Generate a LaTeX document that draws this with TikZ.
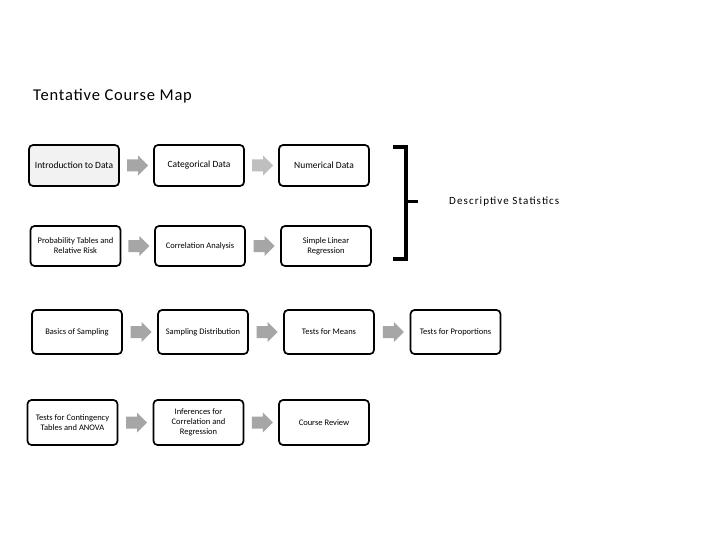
\documentclass[tikz,border=0pt]{standalone}
\usepackage{fontspec}
\setmainfont{Carlito}
\usetikzlibrary{calc}
\definecolor{agray}{HTML}{A6A6A6}
\definecolor{agrayl}{HTML}{BFBFBF}
\definecolor{lfill}{HTML}{F2F2F2}
\tikzset{
  course/.style={draw=black, line width=1.7pt, rounded corners=4pt, fill=white,
    minimum width=90pt, align=center, inner sep=2pt, font=\fontsize{8.5}{10}\selectfont},
  rowone/.style={font=\fontsize{9.5}{11}\selectfont},
}
\newcommand{\flowarr}[3][agray]{%
  \coordinate (m) at ($(#2.east)!0.5!(#3.west)+(1,0)$);
  \fill[#1] ($(m)+(-10.5,-6)$) -- ($(m)+(0.5,-6)$) -- ($(m)+(0.5,-10)$) -- ($(m)+(10.5,0)$)
     -- ($(m)+(0.5,10)$) -- ($(m)+(0.5,6)$) -- ($(m)+(-10.5,6)$) -- cycle;}
\begin{document}
\begin{tikzpicture}[x=1pt, y=-1pt]
\useasboundingbox[fill=white] (0,0) rectangle (720,540);
\node[anchor=base west, inner sep=0pt, font=\fontsize{16.5}{19}\selectfont\addfontfeatures{LetterSpace=5}] (title) at (33,101) {Tentative Course Map};
% row 1
\node[course, rowone, fill=lfill, minimum height=41pt] (a1) at (74,165.5) {Introduction to Data};
\node[course, rowone, minimum height=41pt] (a2) at (199,165.5) {Categorical Data};
\node[course, rowone, minimum height=41pt] (a3) at (324,165.5) {Numerical Data};
% row 2
\node[course, minimum height=40pt] (b1) at (75.5,246) {Probability Tables and\\Relative Risk};
\node[course, minimum height=40pt] (b2) at (200,246) {Correlation Analysis};
\node[course, minimum height=40pt] (b3) at (326,246) {Simple Linear\\Regression};
% row 3
\node[course, minimum height=44pt] (c1) at (77,332) {Basics of Sampling};
\node[course, minimum height=44pt] (c2) at (203,332) {Sampling Distribution};
\node[course, minimum height=44pt] (c3) at (329,332) {Tests for Means};
\node[course, minimum height=44pt] (c4) at (455.5,332) {Tests for Proportions};
% row 4
\node[course, minimum height=45pt] (d1) at (72.5,422.5) {Tests for Contingency\\Tables and ANOVA};
\node[course, minimum height=45pt] (d2) at (198.5,422.5) {Inferences for\\Correlation and\\Regression};
\node[course, minimum height=45pt] (d3) at (324,422.5) {Course Review};
% arrows
\flowarr{a1}{a2}
\flowarr[agrayl]{a2}{a3}
\flowarr{b1}{b2}
\flowarr{b2}{b3}
\flowarr{c1}{c2}
\flowarr{c2}{c3}
\flowarr{c3}{c4}
\flowarr{d1}{d2}
\flowarr{d2}{d3}
% bracket
\coordinate (bt) at (406,147);
\coordinate (bb) at (406,259);
\coordinate (bm) at (406,202);
\draw[line width=3.5pt] ($(bt)+(-13,0)$) -- (bt) -- (bb) -- ($(bb)+(-13,0)$);
\draw[line width=3pt] (bm) -- ($(bm)+(12,0)$);
\node[anchor=west, font=\fontsize{11}{13}\selectfont\addfontfeatures{LetterSpace=10}, inner sep=0pt] (ds) at (449,202) {Descriptive Statistics};
\end{tikzpicture}
\end{document}
